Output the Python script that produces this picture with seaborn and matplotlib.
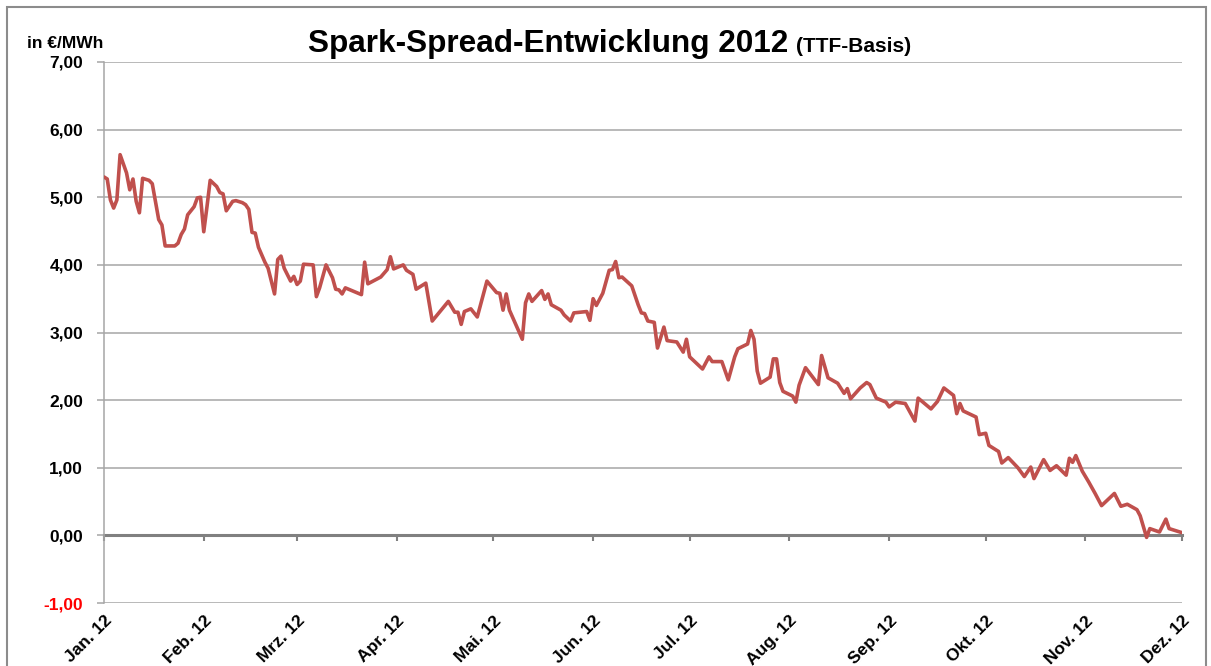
import pandas as pd
import matplotlib
matplotlib.use('Agg')
import matplotlib.pyplot as plt
import matplotlib.ticker as mticker
from matplotlib.patches import Rectangle
import seaborn as sns

# Daten: Tage seit 01.01.2012 und Spark-Spread in EUR/MWh
tage = [0, 1, 2, 3, 4, 5, 7, 8, 9, 10, 11, 12, 14, 15, 17, 18, 19, 22, 23, 24,
        25, 26, 28, 29, 30, 31, 32, 33, 35, 36, 37, 38, 40, 41, 43, 44, 45, 46, 47, 48,
        49, 50, 51, 53, 54, 55, 56, 58, 59, 60, 61, 62, 65, 66, 67, 69, 71, 72, 73, 74,
        75, 80, 81, 82, 86, 88, 89, 90, 93, 94, 96, 97, 100, 102, 107, 109, 110, 111, 112, 114,
        116, 119, 122, 123, 124, 125, 126, 130, 131, 132, 133, 136, 137, 138, 139, 142, 143, 145, 146, 150,
        151, 152, 153, 155, 157, 158, 159, 160, 161, 164, 166, 167, 168, 169, 171, 172, 174, 175, 178, 180,
        181, 182, 184, 186, 188, 189, 192, 194, 196, 197, 200, 201, 202, 203, 204, 207, 208, 209, 210, 211,
        214, 215, 216, 218, 222, 223, 225, 228, 230, 231, 232, 235, 237, 238, 240, 243, 244, 246, 249, 252,
        253, 257, 259, 261, 264, 265, 266, 267, 271, 272, 274, 275, 278, 279, 281, 284, 286, 288, 289, 292,
        294, 296, 299, 300, 301, 302, 304, 306, 308, 310, 314, 316, 318, 321, 322, 324, 325, 328, 330, 331,
        335]
spread = [5.30, 5.27, 4.96, 4.84, 4.96, 5.63, 5.36, 5.11, 5.27, 4.94, 4.77, 5.28, 5.25, 5.20, 4.67, 4.59, 4.28, 4.28, 4.32, 4.45,
          4.53, 4.74, 4.86, 4.99, 5.00, 4.49, 4.86, 5.25, 5.16, 5.07, 5.05, 4.80, 4.94, 4.95, 4.92, 4.89, 4.82, 4.48, 4.47, 4.26,
          4.15, 4.04, 3.95, 3.57, 4.08, 4.13, 3.95, 3.76, 3.83, 3.71, 3.76, 4.01, 4.00, 3.53, 3.66, 4.00, 3.81, 3.64, 3.63, 3.57,
          3.66, 3.56, 4.04, 3.72, 3.82, 3.93, 4.12, 3.94, 4.00, 3.92, 3.86, 3.64, 3.73, 3.17, 3.46, 3.30, 3.30, 3.12, 3.31, 3.35,
          3.23, 3.76, 3.59, 3.58, 3.33, 3.57, 3.33, 2.90, 3.44, 3.57, 3.46, 3.62, 3.49, 3.57, 3.41, 3.33, 3.26, 3.17, 3.29, 3.31,
          3.18, 3.50, 3.40, 3.58, 3.92, 3.93, 4.05, 3.81, 3.82, 3.69, 3.41, 3.29, 3.28, 3.17, 3.15, 2.77, 3.08, 2.88, 2.86, 2.71,
          2.90, 2.64, 2.55, 2.46, 2.64, 2.57, 2.57, 2.30, 2.64, 2.76, 2.83, 3.03, 2.90, 2.43, 2.25, 2.34, 2.61, 2.61, 2.26, 2.13,
          2.06, 1.97, 2.22, 2.48, 2.23, 2.66, 2.33, 2.25, 2.10, 2.17, 2.02, 2.18, 2.26, 2.23, 2.03, 1.97, 1.90, 1.97, 1.95, 1.69,
          2.03, 1.87, 1.98, 2.18, 2.07, 1.80, 1.95, 1.84, 1.75, 1.49, 1.51, 1.33, 1.24, 1.07, 1.15, 1.00, 0.87, 1.01, 0.84, 1.12,
          0.96, 1.03, 0.89, 1.14, 1.08, 1.18, 0.95, 0.79, 0.62, 0.44, 0.62, 0.43, 0.46, 0.38, 0.29, -0.03, 0.10, 0.05, 0.24, 0.10,
          0.04]

monate = ['Jan. 12', 'Feb. 12', 'Mrz. 12', 'Apr. 12', 'Mai. 12', 'Jun. 12',
          'Jul. 12', 'Aug. 12', 'Sep. 12', 'Okt. 12', 'Nov. 12', 'Dez. 12']
y_ticks = [-1, 0, 1, 2, 3, 4, 5, 6, 7]

df = pd.DataFrame({
    'Datum': pd.Timestamp('2012-01-01') + pd.to_timedelta(tage, unit='D'),
    'Spread': spread,
})

sns.set_style('white')
plt.rcParams['font.family'] = ['Liberation Sans', 'DejaVu Sans']
plt.rcParams['font.weight'] = 'bold'
plt.rcParams['text.color'] = 'black'
plt.rcParams['xtick.labelcolor'] = 'black'
plt.rcParams['ytick.labelcolor'] = 'black'

fig = plt.figure(figsize=(12.11, 6.66), dpi=100)
ax = fig.add_axes([104 / 1211, 1 - 603 / 666, (1182 - 104) / 1211, (603 - 62) / 666])

# Rahmen um die ganze Grafik
fig.patches.append(Rectangle((7 / 1211, -0.02), 1199 / 1211, 1 - 7 / 666 + 0.02,
                             transform=fig.transFigure, fill=False,
                             edgecolor='#8c8c8c', linewidth=1.5))

# Gitterlinien
for yv in y_ticks:
    if yv != 0:
        ax.axhline(yv, color='#a6a6a6', linewidth=1.1, zorder=1)

sns.lineplot(data=df, x='Datum', y='Spread', estimator=None, color='#C0504D',
             linewidth=2.6, ax=ax, zorder=3)

ax.set_ylim(-1, 7)
ax.set_xlim(pd.Timestamp('2012-01-01'), pd.Timestamp('2012-12-01'))
ax.set_yticks(y_ticks)
ax.yaxis.set_major_formatter(mticker.FuncFormatter(lambda v, p: f'{v:.2f}'.replace('.', ',')))

ticks_x = pd.date_range('2012-01-01', periods=12, freq='MS')
ax.set_xticks(ticks_x)
ax.set_xticklabels(monate)

ax.set_xlabel('')
ax.set_ylabel('')

for side in ['top', 'right']:
    ax.spines[side].set_visible(False)
ax.spines['left'].set_color('#a6a6a6')
ax.spines['left'].set_linewidth(1.1)
ax.spines['bottom'].set_position(('data', 0))
ax.spines['bottom'].set_color('#808080')
ax.spines['bottom'].set_linewidth(2.2)
ax.spines['bottom'].set_zorder(2)

ax.tick_params(axis='y', direction='out', length=5, width=1.1, color='#a6a6a6',
               pad=10, labelsize=12.5, left=True)
ax.tick_params(axis='x', direction='out', length=4, width=1.5, color='#808080',
               pad=52, labelsize=12.5, bottom=True)
for lbl in ax.get_yticklabels():
    lbl.set_fontweight('bold')
    if lbl.get_text().startswith('-'):
        lbl.set_color('red')
plt.setp(ax.get_xticklabels(), rotation=45, ha='right', va='top',
         rotation_mode='anchor', fontweight='bold')

# Titel und Einheit
fig.text(788 / 1211, 1 - 52 / 666, 'Spark-Spread-Entwicklung 2012', ha='right', va='baseline',
         fontsize=22.7, fontweight='bold')
fig.text(796 / 1211, 1 - 52 / 666, '(TTF-Basis)', ha='left', va='baseline',
         fontsize=15, fontweight='bold')
fig.text(27 / 1211, 1 - 48 / 666, 'in €/MWh', ha='left', va='baseline',
         fontsize=12.5, fontweight='bold')

plt.savefig('out.png', dpi=100)
